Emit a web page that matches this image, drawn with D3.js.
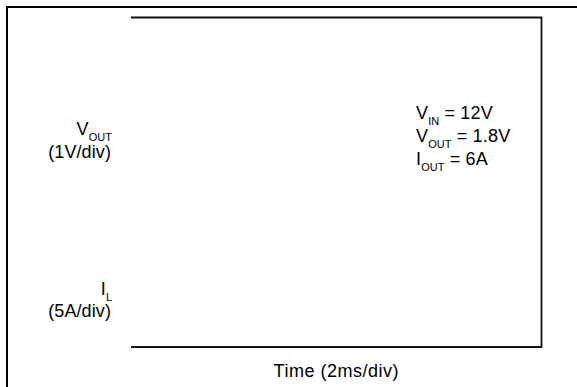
<!DOCTYPE html>
<html>
<head>
<meta charset="utf-8">
<script src="https://cdn.jsdelivr.net/npm/d3@7"></script>
<style>
  body { margin: 0; background: #fff; }
  svg text { font-family: "Liberation Sans", Arial, sans-serif; fill: #000; }
</style>
</head>
<body>
<svg id="chart" width="577" height="387"></svg>
<script>
// 示波器时间轴与通道
var timeDivs = [0, 10];
var ampDivs = [0, 8];
var timeLabel = "Time (2ms/div)";

// 通道标签: [主体, 下标, 刻度]
var channelMain = ["V", "I"];
var channelSub = ["OUT", "L"];
var channelScale = ["(1V/div)", "(5A/div)"];

// 测试条件
var condMain = ["V", "V", "I"];
var condSub = ["IN", "OUT", "OUT"];
var condValue = [" = 12V", " = 1.8V", " = 6A"];

var svg = d3.select("#chart");

var x = d3.scaleLinear().domain(timeDivs).range([131, 541.5]);
var y = d3.scaleLinear().domain(ampDivs).range([347, 17.5]);

//外边框
svg.append("path")
    .attr("d", "M7,400 V7 H600")
    .attr("fill", "none")
    .attr("stroke", "#000")
    .attr("stroke-width", 2);

//图框: 上, 右, 下
var frame = d3.path();
frame.moveTo(x(timeDivs[0]), y(ampDivs[1]));
frame.lineTo(x(timeDivs[1]), y(ampDivs[1]));
frame.lineTo(x(timeDivs[1]), y(ampDivs[0]));
frame.lineTo(x(timeDivs[0]), y(ampDivs[0]));

svg.append("path")
    .attr("d", frame.toString())
    .attr("fill", "none")
    .attr("stroke", "#111")
    .attr("stroke-width", 1.8);

//带下标的文本
function subText(g, main, sub, rest, posX, posY, anchor) {
    var t = g.append("text")
        .attr("x", posX)
        .attr("y", posY)
        .attr("text-anchor", anchor)
        .style("font-size", "18px")
        .style("letter-spacing", "0.2px");
    t.append("tspan").text(main);
    t.append("tspan")
        .attr("dy", 6)
        .style("font-size", "11px")
        .style("letter-spacing", "0px")
        .text(sub);
    if (rest) {
        t.append("tspan").attr("dy", -6).text(rest);
    }
    return t;
}

//通道标签
var chY = [[135, 158], [295, 317]];
channelMain.forEach(function (m, i) {
    subText(svg, m, channelSub[i], null, 112, chY[i][0], "end");
    svg.append("text")
        .attr("x", 111)
        .attr("y", chY[i][1])
        .attr("text-anchor", "end")
        .style("font-size", "18px")
        .style("letter-spacing", "0.1px")
        .text(channelScale[i]);
});

//测试条件
condMain.forEach(function (m, i) {
    subText(svg, m, condSub[i], condValue[i], 416, 119 + i * 23, "start");
});

//时间轴标题
svg.append("text")
    .attr("x", (x(timeDivs[0]) + x(timeDivs[1])) / 2)
    .attr("y", 377)
    .attr("text-anchor", "middle")
    .style("font-size", "18px")
    .style("letter-spacing", "0.5px")
    .text(timeLabel);
</script>
</body>
</html>
